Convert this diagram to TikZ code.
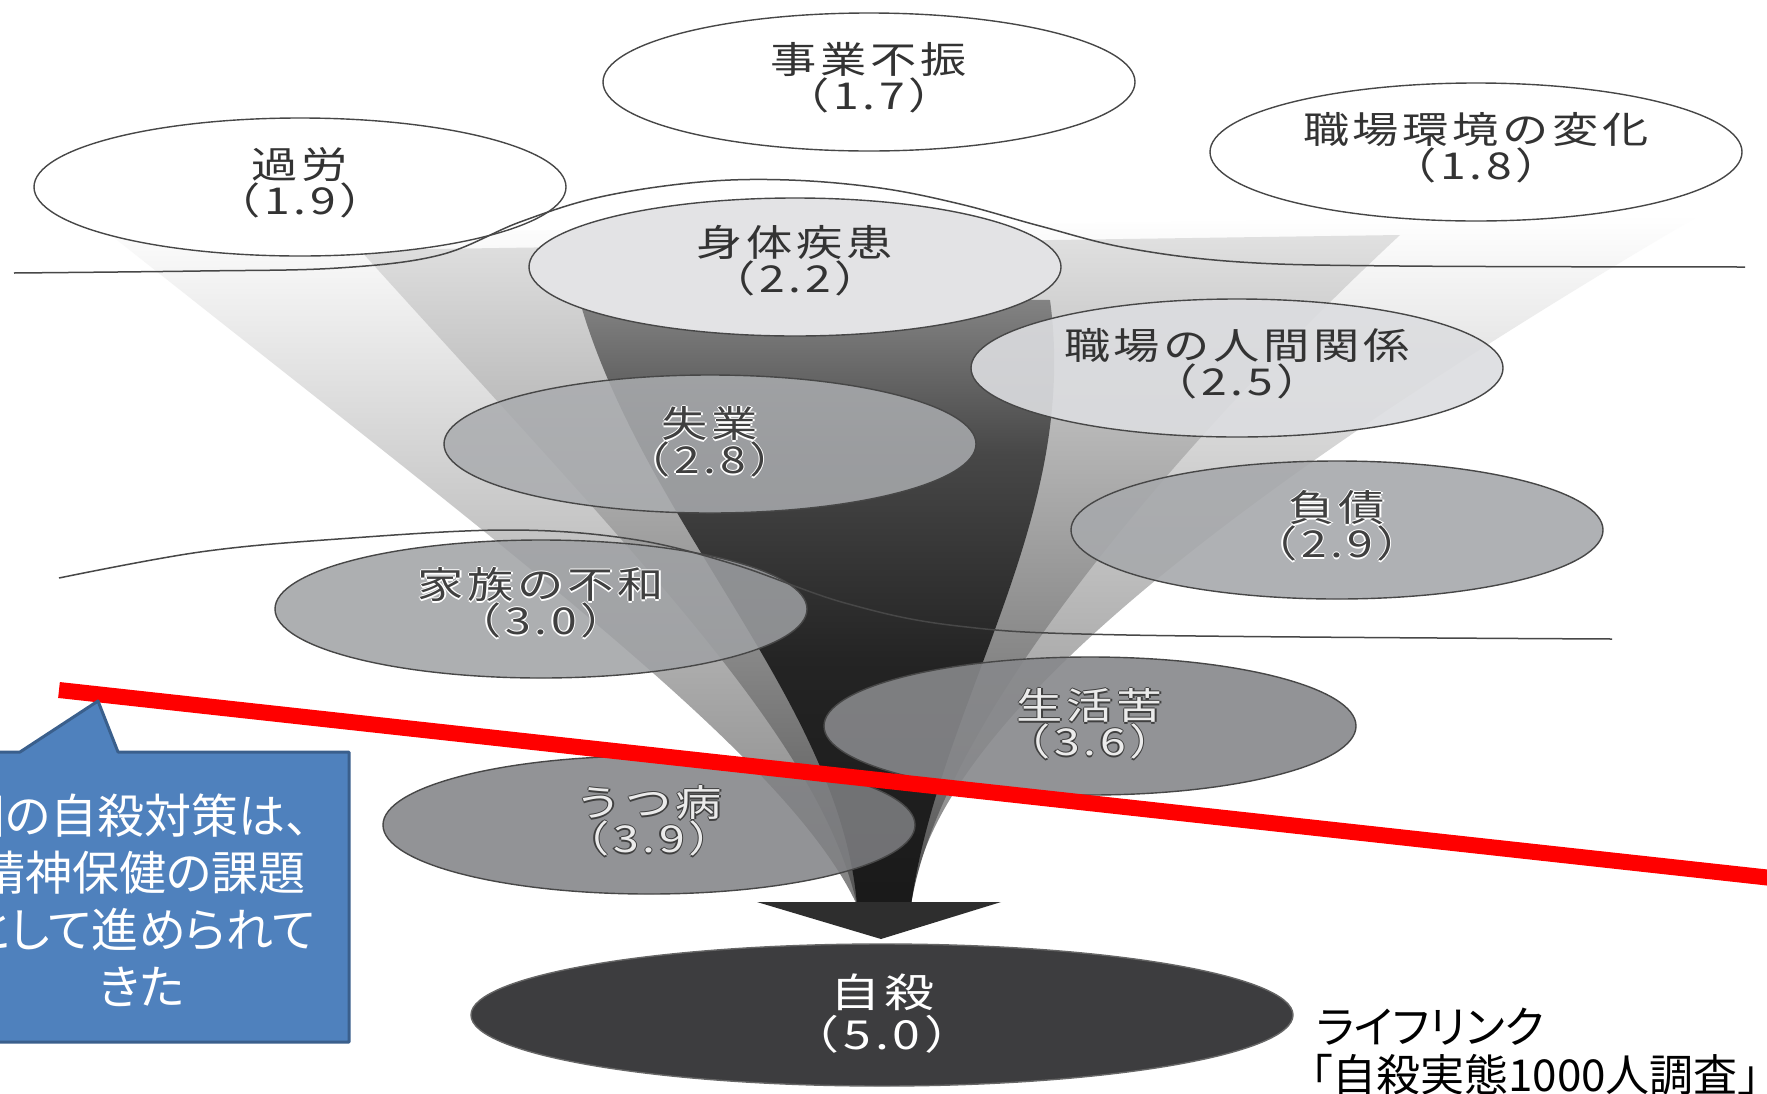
\documentclass[tikz,border=0pt]{standalone}
\usepackage{fontspec}
\usetikzlibrary{shapes.geometric,calc}
\newfontfamily\jp{Noto Sans CJK JP}
\newfontfamily\jpp[RawFeature=+palt]{Noto Sans CJK JP}
\newfontfamily\jpw[FakeStretch=1.25,LetterSpace=10]{Noto Sans CJK JP}
\definecolor{cbfill}{HTML}{4F81BD}
\definecolor{cbdraw}{HTML}{3A5F8C}
\definecolor{txtdark}{HTML}{333333}
\pgfdeclareverticalshading{coreshade}{100bp}{color(0bp)=(black!90); color(25bp)=(black!90); color(45bp)=(black!86); color(62bp)=(black!72); color(75bp)=(black!48); color(100bp)=(black!48)}
\newcommand\halolabel[5]{%
  \foreach \dx/\dy [count=\i] in {1.3/0,-1.3/0,0/1.3,0/-1.3}{
    \node[lbl, text=#5] (#1h\i) at ($(#2)+(\dx,\dy)$) {#3};
  }
  \node[lbl, text=#4] (#1) at (#2) {#3};
}
\begin{document}
\begin{tikzpicture}[x=1pt,y=-1pt,
  ell/.style={ellipse, draw=black!72, line width=1.4pt, minimum width=532pt, minimum height=138pt, inner sep=0pt},
  lbl/.style={font=\jpw\fontsize{37}{36}\selectfont, align=center, inner sep=0pt},
  wave/.style={draw=black!72, line width=1.5pt},
]
\useasboundingbox (0,0) rectangle (1767,1093);
\clip (0,0) rectangle (1767,1093);
\fill[white] (0,0) rectangle (1767,1093);

% funnel bands
\shade[top color=white, bottom color=black!50]
  (112,236) .. controls (520,560) and (790,760) .. (857,905)
  -- (911,905) .. controls (930,720) and (1250,480) .. (1700,215) -- cycle;
\shade[top color=white!88!black, bottom color=black!68]
  (360,250) .. controls (640,560) and (820,740) .. (857,905)
  -- (911,905) .. controls (940,720) and (1180,440) .. (1400,235) -- cycle;
\shade[shading=coreshade]
  (578,295) .. controls (640,520) and (840,700) .. (857,905)
  -- (911,905) .. controls (940,700) and (1080,520) .. (1050,300) -- cycle;

% ellipses
\node[ell, fill=white] (karou) at (300,187) {};
\node[ell, fill=white] (jigyo) at (869,82) {};
\node[ell, fill=white] (kankyo) at (1476,152) {};
\node[ell, fill={rgb,255:red,227;green,227;blue,229}] (shintai) at (795,267) {};
\node[ell, fill={rgb,255:red,220;green,221;blue,224}, fill opacity=0.9] (ningen) at (1237,368) {};
\node[ell, fill={rgb,255:red,170;green,172;blue,175}, fill opacity=0.85] (shitsugyo) at (710,444) {};
\node[ell, fill={rgb,255:red,167;green,169;blue,172}, fill opacity=0.9] (fusai) at (1337,530) {};
\node[ell, fill={rgb,255:red,159;green,161;blue,164}, fill opacity=0.85] (kazoku) at (541,609) {};
\node[ell, fill={rgb,255:red,135;green,136;blue,139}, fill opacity=0.9] (seikatsu) at (1090,726) {};
\node[ell, fill={rgb,255:red,128;green,129;blue,132}, fill opacity=0.85] (utsu) at (649,825) {};

% arrow head
\fill[black!82] (757,902) -- (1001,902) -- (881,939) -- cycle;
\node[ell, minimum width=822pt, minimum height=142pt, fill={rgb,255:red,61;green,61;blue,63}, draw=black!60] (jisatsu) at (882,1015) {};

% labels
\node[lbl, text=txtdark] (lkarou) at ($(karou)+(0,-4)$) {過労\\（1.9）};
\node[lbl, text=txtdark] (ljigyo) at ($(jigyo)+(0,-4)$) {事業不振\\（1.7）};
\node[lbl, text=txtdark] (lkankyo) at ($(kankyo)+(0,-4)$) {職場環境の変化\\（1.8）};
\node[lbl, text=txtdark] (lshintai) at ($(shintai)+(0,-6)$) {身体疾患\\（2.2）};
\node[lbl, text=txtdark] (lningen) at ($(ningen)+(0,-4)$) {職場の人間関係\\（2.5）};
\halolabel{lshitsugyo}{$(shitsugyo)+(0,-2)$}{失業\\（2.8）}{black!75}{white}
\halolabel{lfusai}{$(fusai)+(0,-4)$}{負債\\（2.9）}{black!75}{white}
\halolabel{lkazoku}{$(kazoku)+(0,-6)$}{家族の不和\\（3.0）}{black!75}{white}
\halolabel{lseikatsu}{$(seikatsu)+(0,-2)$}{生活苦\\（3.6）}{white!92!black}{black!75}
\halolabel{lutsu}{$(utsu)+(0,-4)$}{うつ病\\（3.9）}{white!92!black}{black!75}
\node[font=\jpw\fontsize{40}{42}\selectfont, align=center, inner sep=0pt, text=white] (ljisatsu) at ($(jisatsu)+(0,-1)$) {自殺\\（5.0）};

% wavy lines
\draw[wave] plot[smooth, tension=0.6] coordinates {(14,273) (200,271) (338,268) (440,255) (520,222) (600,197) (700,182) (789,180) (880,188) (960,204) (1040,226) (1127,248) (1240,262) (1400,266) (1745,267)};
\draw[wave] plot[smooth, tension=0.6] coordinates {(59,578) (200,552) (338,539) (507,530) (631,539) (733,564) (845,603) (958,626) (1127,635) (1612,639)};

% red line
\coordinate (r1) at (59,690);
\coordinate (r2) at (1790,880);
\draw[red, line width=16pt] (r1) -- (r2);

% callout
\draw[cbdraw, fill=cbfill, line width=3pt, line join=round]
  (-30,752) -- (20,752) -- (98,701) -- (118,752) -- (349,752) -- (349,1042) -- (-30,1042) -- cycle;
\node[font=\jpp\fontsize{47}{57}\selectfont, text=white, align=center, inner sep=0pt] (cbtext) at (142,900)
  {国の自殺対策は、\hspace*{16pt}\\精神保健の課題\\として進められて\\きた};

% source
\node[font=\jpp\fontsize{44}{48}\selectfont, anchor=west, inner sep=0pt] (src1) at (1316,1027) {ライフリンク};
\node[font=\jpp\fontsize{44}{48}\selectfont, anchor=west, inner sep=0pt] (src2) at (1310,1075) {「自殺実態1000人調査」};
\end{tikzpicture}
\end{document}
